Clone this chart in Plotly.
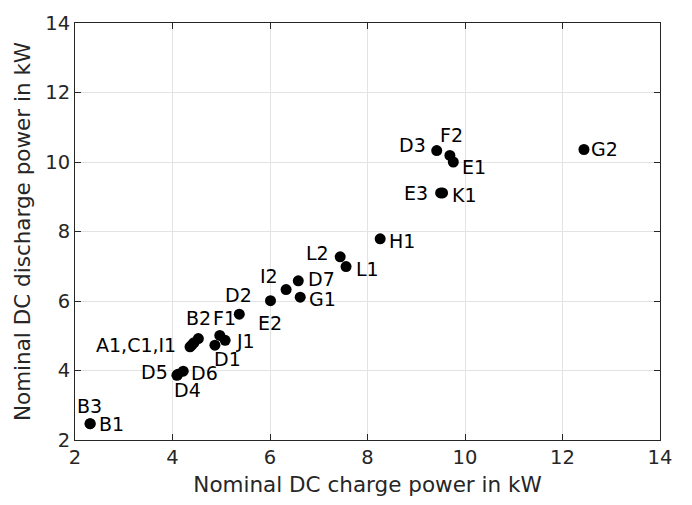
import plotly.graph_objects as go

# Data: battery storage systems, nominal DC charge / discharge power (kW)
names = ["B1", "B3", "D4", "D5", "D6", "A1", "C1", "I1", "B2", "F1", "J1", "D1",
         "D2", "E2", "I2", "D7", "G1", "L2", "L1", "H1", "D3", "F2", "E1", "E3",
         "K1", "G2"]
charge_kw = [2.31, 2.31, 4.09, 4.11, 4.22, 4.36, 4.40, 4.44, 4.53, 4.97, 5.08, 4.87,
             5.37, 6.01, 6.33, 6.58, 6.62, 7.44, 7.56, 8.26, 9.42, 9.69, 9.76, 9.50,
             9.54, 12.44]
discharge_kw = [2.47, 2.47, 3.86, 3.89, 3.98, 4.68, 4.74, 4.80, 4.92, 5.01, 4.87, 4.73,
                5.62, 6.01, 6.33, 6.58, 6.11, 7.27, 6.99, 7.79, 10.33, 10.19, 10.00, 9.11,
                9.11, 10.36]
x_ticks = [2, 4, 6, 8, 10, 12, 14]
y_ticks = [2, 4, 6, 8, 10, 12, 14]
x_title = "Nominal DC charge power in kW"
y_title = "Nominal DC discharge power in kW"

# Label text for each point (grouped label for overlapping points)
label_text = {"A1": "A1,C1,I1", "C1": "", "I1": ""}
# Label placement in screen pixels (dx right, dy down) relative to the marker
label_offset = {
    "B1": (21, 0), "B3": (-1, -18), "D4": (11, 15), "D5": (-23, -2), "D6": (21, 2),
    "A1": (-54, -2), "B2": (0, -21), "F1": (5, -17), "J1": (20, 1), "D1": (13, 14),
    "D2": (-1, -19), "E2": (0, 22), "I2": (-17, -14), "D7": (23, -2), "G1": (22, 2),
    "L2": (-23, -4), "L1": (21, 2), "H1": (22, 2), "D3": (-24, -6), "F2": (2, -20),
    "E1": (21, 5), "E3": (-25, 0), "K1": (22, 2), "G2": (21, 0),
}

FONT = "DejaVu Sans"
TXT = "#262626"

fig = go.Figure()
fig.add_trace(go.Scatter(
    x=charge_kw, y=discharge_kw, mode="markers",
    marker=dict(color="black", size=11, line=dict(width=0)),
    hoverinfo="skip", showlegend=False,
))

for n, xv, yv in zip(names, charge_kw, discharge_kw):
    t = label_text.get(n, n)
    if not t:
        continue
    dx, dy = label_offset.get(n, (18, 0))
    fig.add_annotation(x=xv, y=yv, xref="x", yref="y", text=t, showarrow=False,
                       xshift=dx, yshift=-dy, xanchor="center", yanchor="middle",
                       borderpad=0,
                       font=dict(family=FONT, size=19, color="black"))

axis_common = dict(
    showgrid=True, gridcolor="#e3e3e3", gridwidth=1,
    showline=True, linecolor=TXT, linewidth=1, mirror="ticks",
    ticks="inside", ticklen=6, tickcolor=TXT, tickwidth=1,
    zeroline=False, tickfont=dict(family=FONT, size=19.5, color=TXT),
)

fig.update_layout(
    width=692, height=505,
    margin=dict(l=75, r=32, t=15, b=65),
    paper_bgcolor="white", plot_bgcolor="white",
    font=dict(family=FONT, size=19, color=TXT),
    xaxis=dict(range=[2, 14], tickvals=x_ticks,
               title=dict(text=x_title, font=dict(family=FONT, size=21.5, color=TXT), standoff=8),
               **axis_common),
    yaxis=dict(range=[2, 14], tickvals=y_ticks,
               title=dict(text=y_title, font=dict(family=FONT, size=21.5, color=TXT), standoff=8),
               **axis_common),
)

fig.write_html("out.html")
